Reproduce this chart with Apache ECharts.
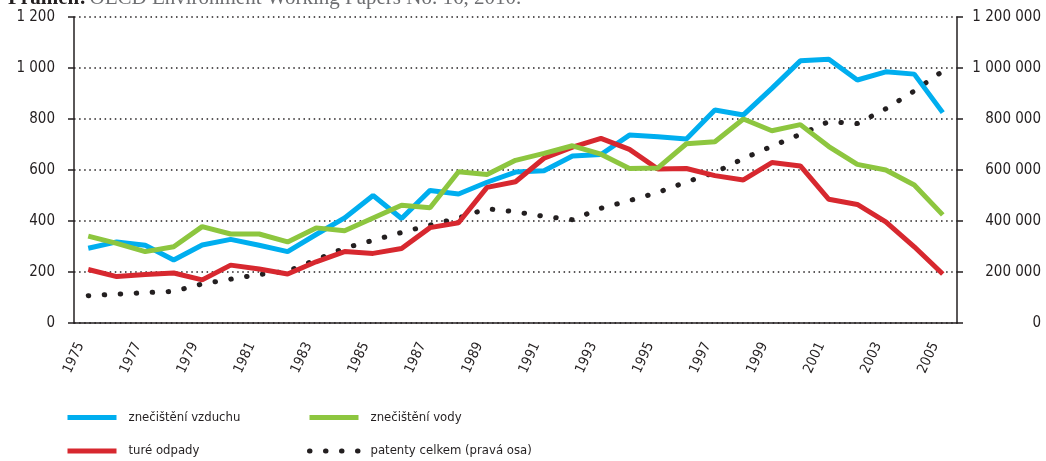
<!DOCTYPE html>
<html>
<head>
<meta charset="utf-8">
<script src="https://cdn.jsdelivr.net/npm/echarts@6/dist/echarts.min.js"></script>
<style>
  html, body { margin: 0; padding: 0; background: #fff; }
  #chart { width: 1046px; height: 461px; }
</style>
</head>
<body>
<div id="chart"></div>
<script>
// roky na ose x
const years = ['1975', '1976', '1977', '1978', '1979', '1980', '1981', '1982', '1983', '1984',
  '1985', '1986', '1987', '1988', '1989', '1990', '1991', '1992', '1993', '1994',
  '1995', '1996', '1997', '1998', '1999', '2000', '2001', '2002', '2003', '2004', '2005'];

// lava osa
const air = [293, 318, 305, 247, 306, 328, 305, 280, 347, 412, 500, 410, 520, 506, 552, 592,
  597, 655, 661, 737, 730, 722, 835, 816, 920, 1028, 1034, 953, 985, 976, 825];
const water = [341, 312, 280, 299, 378, 349, 349, 318, 373, 362, 412, 462, 452, 593, 582, 638,
  665, 695, 662, 606, 608, 703, 711, 800, 754, 778, 692, 622, 600, 541, 424];
const waste = [210, 182, 190, 196, 169, 227, 212, 192, 240, 280, 273, 292, 374, 393, 532, 554,
  646, 690, 724, 681, 604, 606, 578, 561, 629, 616, 485, 465, 397, 299, 192];

// prava osa
const patents = [107000, 113000, 119000, 124000, 153000, 172000, 190000, 203000, 248000, 294000,
  324000, 355000, 384000, 412000, 448000, 436000, 418000, 405000, 450000, 480000,
  512000, 553000, 590000, 645000, 693000, 740000, 790000, 782000, 840000, 910000, 988000];

const names = ['znečištění vzduchu', 'znečištění vody', 'turé odpady', 'patenty celkem (pravá osa)'];

const FONT = "'DejaVu Sans Condensed', 'DejaVu Sans', sans-serif";
const INK = '#231f20';

const spaced = v => String(v).replace(/\B(?=(\d{3})+(?!\d))/g, ' ');

const chart = echarts.init(document.getElementById('chart'));

const legendBase = {
  orient: 'vertical',
  top: 411,
  padding: 0,
  itemWidth: 49,
  itemHeight: 14,
  itemGap: 20.5,
  selectedMode: false,
  itemStyle: { opacity: 0 },
  lineStyle: { width: 5 },
  textStyle: { fontFamily: FONT, fontSize: 13, color: INK, padding: [0, 0, 0, 7] }
};

chart.setOption({
  animation: false,
  textStyle: { fontFamily: FONT },
  grid: { left: 74, right: 89, top: 17, bottom: 138, containLabel: false },
  graphic: [{
    type: 'text',
    left: 8,
    top: -12,
    style: {
      text: '{b|Prameň:} {n|OECD Environment Working Papers No. 16, 2010.}',
      rich: {
        b: { fontFamily: 'Liberation Serif', fontWeight: 'bold', fontSize: 21, fill: INK },
        n: { fontFamily: 'Liberation Serif', fontSize: 21, fill: '#6d6e71' }
      }
    }
  }],
  legend: [
    Object.assign({}, legendBase, { left: 65, data: [names[0], names[2]] }),
    Object.assign({}, legendBase, { left: 307, data: [names[1], names[3]] })
  ],
  xAxis: {
    type: 'category',
    data: years,
    boundaryGap: true,
    axisLine: { lineStyle: { color: INK, width: 1.5 } },
    axisTick: { interval: 0, length: 6, lineStyle: { color: INK, width: 1.5 } },
    axisLabel: {
      interval: 1, rotate: 65, margin: 4, padding: [0, 18, 0, 0],
      fontSize: 14, color: INK, fontFamily: FONT
    }
  },
  yAxis: [{
    type: 'value',
    min: 0,
    max: 1200,
    interval: 200,
    axisLine: { show: true, lineStyle: { color: INK, width: 1.5 } },
    axisTick: { show: true, length: 6, lineStyle: { color: INK, width: 1.5 } },
    axisLabel: { margin: 19, fontSize: 15, color: INK, fontFamily: FONT, formatter: spaced },
    splitLine: { show: true, lineStyle: { color: INK, width: 1.5, type: [1.5, 3.6] } }
  }, {
    type: 'value',
    min: 0,
    max: 1200000,
    interval: 200000,
    position: 'right',
    axisLine: { show: true, lineStyle: { color: INK, width: 1.5 } },
    axisTick: { show: true, length: 6, lineStyle: { color: INK, width: 1.5 } },
    axisLabel: { margin: 84, align: 'right', fontSize: 15, color: INK, fontFamily: FONT, formatter: spaced },
    splitLine: { show: false }
  }],
  series: [{
    name: names[3],
    type: 'line',
    yAxisIndex: 1,
    data: patents,
    symbol: 'none',
    color: INK,
    lineStyle: { color: INK, width: 5, type: [0.5, 15.5], cap: 'round' }
  }, {
    name: names[0],
    type: 'line',
    data: air,
    symbol: 'none',
    color: '#00aeef',
    lineStyle: { color: '#00aeef', width: 5 }
  }, {
    name: names[2],
    type: 'line',
    data: waste,
    symbol: 'none',
    color: '#d7282f',
    lineStyle: { color: '#d7282f', width: 5 }
  }, {
    name: names[1],
    type: 'line',
    data: water,
    symbol: 'none',
    color: '#8dc63f',
    lineStyle: { color: '#8dc63f', width: 5 }
  }]
});
</script>
</body>
</html>
